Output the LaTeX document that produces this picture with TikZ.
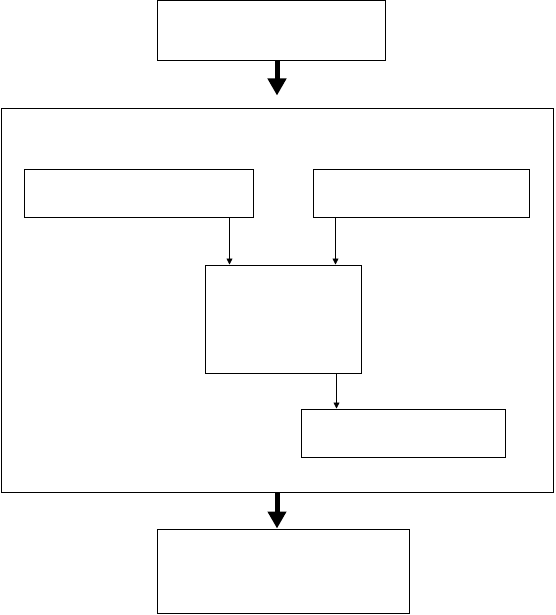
\documentclass[tikz,border=0pt]{standalone}
\usetikzlibrary{arrows.meta}
\begin{document}
\begin{tikzpicture}[x = 1pt, y = -1pt,
		box/.style = {draw, line width = 1pt, inner sep = 0pt},
		link/.style = {line width = 0.8pt, -{Triangle[width = 6pt, length = 6pt]}},
		bigarrow/.style = {line width = 5pt, -{Triangle[width = 18pt, length = 17pt]}}]
		\useasboundingbox (0,0) rectangle (555,615);
		\node [box, minimum width = 228pt, minimum height = 60pt] (top) at (271,31) {};
		\node [box, minimum width = 552pt, minimum height = 383pt] (outer) at (277,300.5) {};
		\node [box, minimum width = 229pt, minimum height = 48pt] (left) at (138.5,193) {};
		\node [box, minimum width = 216pt, minimum height = 48pt] (right) at (421,193) {};
		\node [box, minimum width = 156pt, minimum height = 108pt] (mid) at (283,319) {};
		\node [box, minimum width = 204pt, minimum height = 48pt] (low) at (403,433) {};
		\node [box, minimum width = 252pt, minimum height = 84pt] (bottom) at (283,571) {};
		\draw [bigarrow, shorten >= 13pt] (top.south -| outer.north) -- (outer.north);
		\draw [link] ([xshift = -24pt]left.south east) -- ([xshift = -24pt]left.south east |- mid.north);
		\draw [link] ([xshift = 23pt]right.south west) -- ([xshift = 23pt]right.south west |- mid.north);
		\draw [link] ([xshift = -25pt]mid.south east) -- ([xshift = -25pt]mid.south east |- low.north);
		\draw [bigarrow] (outer.south) -- (outer.south |- bottom.north);
	\end{tikzpicture}
\end{document}
